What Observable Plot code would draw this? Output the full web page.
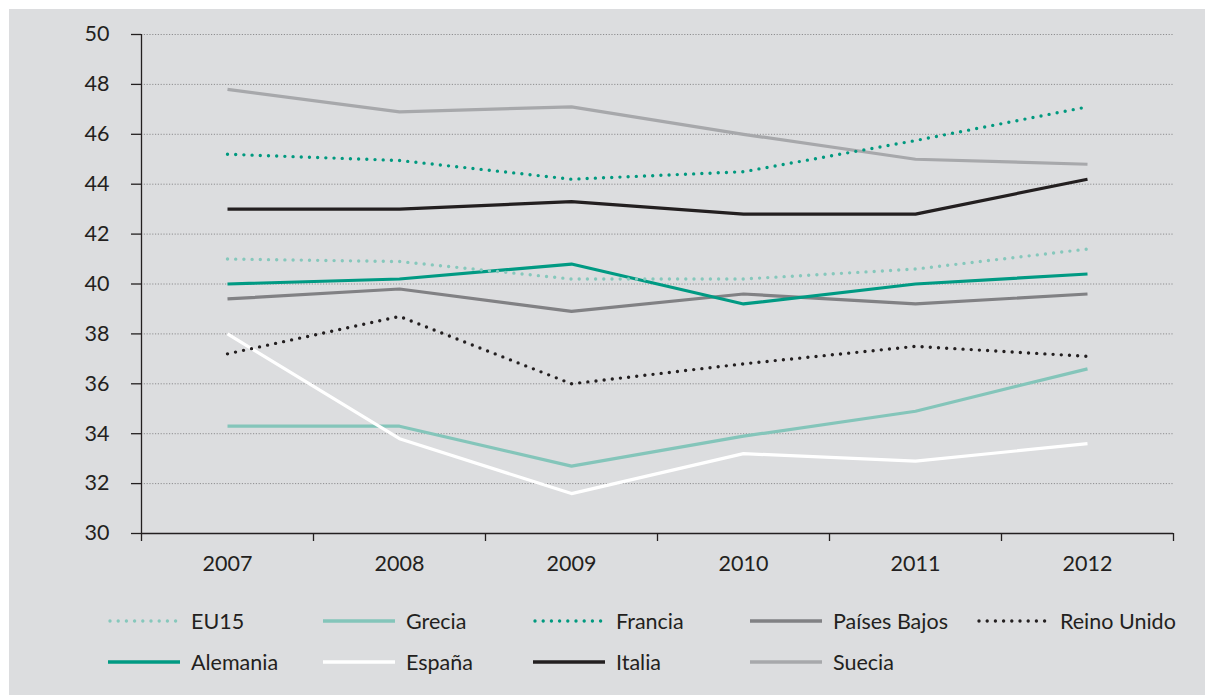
<!DOCTYPE html>
<html>
<head>
<meta charset="utf-8">
<script src="https://cdn.jsdelivr.net/npm/d3@7"></script>
<script src="https://cdn.jsdelivr.net/npm/@observablehq/plot@0.6"></script>
<style>
  html, body { margin: 0; padding: 0; background: #ffffff; }
  #wrap { position: relative; width: 1205px; height: 695px; overflow: hidden; font-family: Lato, "Noto Sans", sans-serif; }
  #bg { position: absolute; left: 9px; top: 9px; right: 0; bottom: 0; background: #dcdddf; }
  #chart { position: absolute; left: 0; top: 0; }
  .leg { position: absolute; display: flex; align-items: center; height: 22px; font-size: 21.5px; color: #231f20; white-space: nowrap; }
  .leg svg { display: block; margin-right: 11px; }
</style>
</head>
<body>
<div id="wrap">
  <div id="bg"></div>
  <div id="chart"></div>
  <div id="legend"></div>
</div>
<script>
const years = [2007, 2008, 2009, 2010, 2011, 2012];
const yTicks = [30, 32, 34, 36, 38, 40, 42, 44, 46, 48, 50];

const EU15        = [41.0, 40.9, 40.2, 40.2, 40.6, 41.4];
const Grecia      = [34.3, 34.3, 32.7, 33.9, 34.9, 36.6];
const Francia     = [45.2, 44.95, 44.2, 44.5, 45.75, 47.1];
const PaisesBajos = [39.4, 39.8, 38.9, 39.6, 39.2, 39.6];
const ReinoUnido  = [37.2, 38.7, 36.0, 36.8, 37.5, 37.1];
const Alemania    = [40.0, 40.2, 40.8, 39.2, 40.0, 40.4];
const Espana      = [38.0, 33.8, 31.6, 33.2, 32.9, 33.6];
const Italia      = [43.0, 43.0, 43.3, 42.8, 42.8, 44.2];
const Suecia      = [47.8, 46.9, 47.1, 46.0, 45.0, 44.8];

// legend order
const series = [
  {name: "EU15", values: EU15, color: "#86c8bc", dotted: true},
  {name: "Grecia", values: Grecia, color: "#84c5ba", dotted: false},
  {name: "Francia", values: Francia, color: "#00997f", dotted: true},
  {name: "Países Bajos", values: PaisesBajos, color: "#818184", dotted: false},
  {name: "Reino Unido", values: ReinoUnido, color: "#231f20", dotted: true},
  {name: "Alemania", values: Alemania, color: "#009a83", dotted: false},
  {name: "España", values: Espana, color: "#ffffff", dotted: false},
  {name: "Italia", values: Italia, color: "#231f20", dotted: false},
  {name: "Suecia", values: Suecia, color: "#a7a8ab", dotted: false}
];
// draw order (bottom to top)
const drawOrder = ["Suecia", "Italia", "Países Bajos", "Alemania", "Grecia", "España", "EU15", "Reino Unido", "Francia"];

const axisColor = "#231f20";
const edges = [2006.5, 2007.5, 2008.5, 2009.5, 2010.5, 2011.5, 2012.5];

const lineMarks = drawOrder.map(n => {
  const s = series.find(d => d.name === n);
  const data = years.map((yr, i) => ({year: yr, value: s.values[i]}));
  return Plot.line(data, {
    x: "year", y: "value",
    stroke: s.color,
    strokeWidth: s.dotted ? 3.4 : 3.2,
    strokeDasharray: s.dotted ? "0 8.2" : null,
    strokeLinecap: s.dotted ? "round" : "butt",
    strokeLinejoin: "round"
  });
});

const chart = Plot.plot({
  width: 1205,
  height: 590,
  marginLeft: 141,
  marginRight: 32,
  marginTop: 34,
  marginBottom: 57,
  style: {background: "transparent", fontFamily: "Lato, 'Noto Sans', sans-serif", color: axisColor},
  x: {type: "linear", domain: [2006.5, 2012.5], axis: null},
  y: {domain: [30, 50], axis: null},
  marks: [
    Plot.ruleY(yTicks.filter(t => t > 30), {y: d => d, x1: 2006.5, x2: 2012.5, stroke: "#8e8e90", strokeWidth: 1, strokeDasharray: "1.2 1.6"}),
    Plot.ruleX([2006.5], {y1: 30, y2: 50, stroke: axisColor, strokeWidth: 1.3}),
    Plot.ruleY([30], {x1: 2006.5, x2: 2012.5, stroke: axisColor, strokeWidth: 1.3}),
    Plot.axisY({ticks: yTicks, label: null, tickSize: 10, tickPadding: 22, fontSize: 21.5, stroke: axisColor, strokeWidth: 1.3, fill: axisColor, tickFormat: d => String(d)}),
    Plot.axisX({ticks: edges, label: null, tickSize: 8, tickFormat: () => "", stroke: axisColor, strokeWidth: 1.3}),
    Plot.axisX({ticks: years, label: null, tickSize: 0, tickPadding: 22, fontSize: 21.5, fill: axisColor, tickFormat: d => String(d)}),
    ...lineMarks
  ]
});
document.getElementById("chart").appendChild(chart);

// legend
const colLefts = [108, 323, 533, 750, 977];
const rowCenters = [621, 662];
const legend = document.getElementById("legend");
series.forEach((s, i) => {
  const row = Math.floor(i / 5), col = i % 5;
  const div = document.createElement("div");
  div.className = "leg";
  div.style.left = colLefts[col] + "px";
  div.style.top = (rowCenters[row] - 11) + "px";
  const sw = d3.create("svg").attr("width", 72).attr("height", 22);
  sw.append("line")
    .attr("x1", s.dotted ? 2 : 0).attr("x2", s.dotted ? 70 : 72)
    .attr("y1", 11).attr("y2", 11)
    .attr("stroke", s.color)
    .attr("stroke-width", s.dotted ? 3.4 : 3.6)
    .attr("stroke-dasharray", s.dotted ? "0 8.2" : null)
    .attr("stroke-linecap", s.dotted ? "round" : "butt");
  div.appendChild(sw.node());
  const t = document.createElement("span");
  t.textContent = s.name;
  div.appendChild(t);
  legend.appendChild(div);
});
</script>
</body>
</html>
